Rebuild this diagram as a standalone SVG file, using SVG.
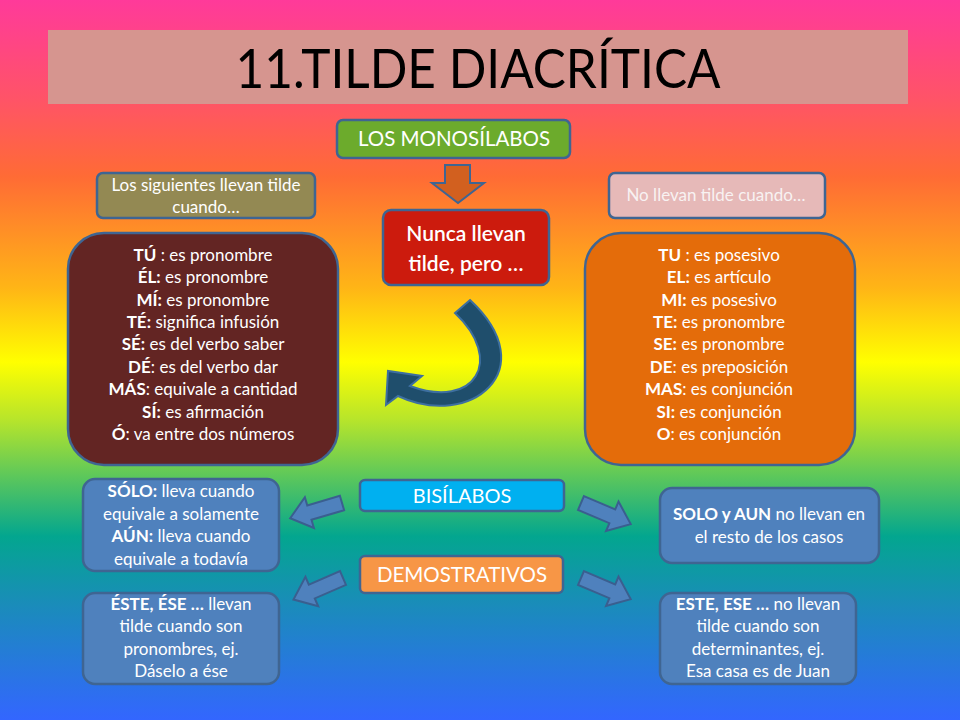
<svg xmlns="http://www.w3.org/2000/svg" width="960" height="720" viewBox="0 0 960 720">
<defs>
<linearGradient id="bg" x1="0" y1="0" x2="0" y2="720" gradientUnits="userSpaceOnUse">
<stop offset="0" stop-color="#ff3a9a"/>
<stop offset="0.14" stop-color="#ff5466"/>
<stop offset="0.245" stop-color="#ff6b35"/>
<stop offset="0.4" stop-color="#ffb516"/>
<stop offset="0.503" stop-color="#ffff00"/>
<stop offset="0.585" stop-color="#b5e42c"/>
<stop offset="0.66" stop-color="#5ec85a"/>
<stop offset="0.745" stop-color="#03a68f"/>
<stop offset="0.84" stop-color="#1a8cba"/>
<stop offset="1" stop-color="#3366ff"/>
</linearGradient>
<path id="blk" d="M0,-7.5 L34,-7.5 L34,-16 L54,0 L34,16 L34,7.5 L0,7.5 Z"/>
</defs>
<style>
.t{font-family:Lato,"Open Sans","Liberation Sans",sans-serif;fill:#ffffff;text-anchor:middle}
.b{font-weight:bold}
.bx{stroke:#3f6592;stroke-width:2.5}
.ar{fill:#4f81bd;stroke:#3a5f8f;stroke-width:2}
.body{font-size:17px}
</style>
<rect width="960" height="720" fill="url(#bg)"/>

<g id="title">
<rect x="48" y="30" width="860" height="74" fill="#d6958f"/>
<text x="478" y="88" style="font-family:Lato,'Open Sans','Liberation Sans',sans-serif;font-size:55px;fill:#000;text-anchor:middle" textLength="485" lengthAdjust="spacingAndGlyphs">11.TILDE DIACRÍTICA</text>
</g>

<g id="monosilabos">
<rect class="bx" x="337" y="120" width="233" height="38" rx="6" fill="#6cab2c"/>
<text class="t" x="454" y="146" style="font-size:20.5px">LOS MONOSÍLABOS</text>
</g>

<g id="nunca">
<rect class="bx" x="383" y="210" width="166" height="75" rx="8" fill="#cc1b0d"/>
<text class="t" x="466" y="241" style="font-size:21px;font-weight:600">Nunca llevan</text>
<text class="t" x="466" y="271" style="font-size:21px;font-weight:600">tilde, pero …</text>
</g>

<g id="label-left">
<rect class="bx" x="97" y="173" width="218" height="45" rx="6" fill="#938953"/>
<text class="t" x="206" y="191" style="font-size:17px">Los siguientes llevan tilde</text>
<text class="t" x="206" y="213" style="font-size:17px">cuando…</text>
</g>

<g id="label-right">
<rect class="bx" x="609" y="173" width="216" height="45" rx="6" fill="#e6b9b8"/>
<text class="t" x="716" y="201" style="font-size:17px;fill:#f8f2f2">No llevan tilde cuando…</text>
</g>

<g id="con-tilde">
<rect class="bx" x="68" y="233" width="270" height="232" rx="36" fill="#632523"/>
<g class="t body">
<text x="203" y="261"><tspan class="b">TÚ</tspan> : es pronombre</text>
<text x="203" y="283"><tspan class="b">ÉL:</tspan> es pronombre</text>
<text x="203" y="306"><tspan class="b">MÍ:</tspan> es pronombre</text>
<text x="203" y="328"><tspan class="b">TÉ:</tspan> significa infusión</text>
<text x="203" y="350"><tspan class="b">SÉ:</tspan> es del verbo saber</text>
<text x="203" y="373"><tspan class="b">DÉ</tspan>: es del verbo dar</text>
<text x="203" y="395"><tspan class="b">MÁS</tspan>: equivale a cantidad</text>
<text x="203" y="418"><tspan class="b">SÍ:</tspan> es afirmación</text>
<text x="203" y="440"><tspan class="b">Ó</tspan>: va entre dos números</text>
</g>
</g>

<g id="sin-tilde">
<rect class="bx" x="585" y="233" width="270" height="232" rx="36" fill="#e46c0a"/>
<g class="t body">
<text x="719" y="261"><tspan class="b">TU</tspan> : es posesivo</text>
<text x="719" y="283"><tspan class="b">EL:</tspan> es artículo</text>
<text x="719" y="306"><tspan class="b">MI:</tspan> es posesivo</text>
<text x="719" y="328"><tspan class="b">TE:</tspan> es pronombre</text>
<text x="719" y="350"><tspan class="b">SE:</tspan> es pronombre</text>
<text x="719" y="373"><tspan class="b">DE</tspan>: es preposición</text>
<text x="719" y="395"><tspan class="b">MAS</tspan>: es conjunción</text>
<text x="719" y="418"><tspan class="b">SI:</tspan> es conjunción</text>
<text x="719" y="440"><tspan class="b">O</tspan>: es conjunción</text>
</g>
</g>

<g id="bisilabos">
<rect class="bx" x="360" y="480" width="204" height="31" rx="5" fill="#00b0f0"/>
<text class="t" x="462" y="503" style="font-size:20px">BISÍLABOS</text>
</g>

<g id="demostrativos">
<rect class="bx" x="360" y="556" width="203" height="37" rx="5" fill="#f79646"/>
<text class="t" x="462" y="582" style="font-size:20.5px">DEMOSTRATIVOS</text>
</g>

<g id="solo-lleva">
<rect class="bx" x="83" y="479" width="196" height="92" rx="12" fill="#4f81bd"/>
<g class="t body">
<text x="181" y="497"><tspan class="b">SÓLO:</tspan> lleva cuando</text>
<text x="181" y="520">equivale a solamente</text>
<text x="181" y="542"><tspan class="b">AÚN:</tspan> lleva cuando</text>
<text x="181" y="565">equivale a todavía</text>
</g>
</g>

<g id="solo-no">
<rect class="bx" x="660" y="488" width="219" height="75" rx="12" fill="#4f81bd"/>
<g class="t body">
<text x="769" y="520"><tspan class="b">SOLO y AUN</tspan> no llevan en</text>
<text x="769" y="543">el resto de los casos</text>
</g>
</g>

<g id="este-lleva">
<rect class="bx" x="83" y="593" width="196" height="91" rx="12" fill="#4f81bd"/>
<g class="t body">
<text x="181" y="610"><tspan class="b">ÉSTE, ÉSE …</tspan> llevan</text>
<text x="181" y="632">tilde cuando son</text>
<text x="181" y="655">pronombres, ej.</text>
<text x="181" y="677">Dáselo a ése</text>
</g>
</g>

<g id="este-no">
<rect class="bx" x="660" y="593" width="196" height="91" rx="12" fill="#4f81bd"/>
<g class="t body">
<text x="758" y="610"><tspan class="b">ESTE, ESE …</tspan> no llevan</text>
<text x="758" y="632">tilde cuando son</text>
<text x="758" y="655">determinantes, ej.</text>
<text x="758" y="677">Esa casa es de Juan</text>
</g>
</g>

<g id="connectors">
<path d="M445,165 L470,165 L470,183 L484,183 L458,203 L432,183 L445,183 Z" fill="#d2601f" stroke="#3f6592" stroke-width="2"/>
<path d="M455,313 C505,360 475,410 410,386 L422,376 L388,371 L386,405 L398,396 C470,430 545,370 470,300 Z" fill="#1f4e6c" stroke="#3d6fa0" stroke-width="2"/>
<use href="#blk" class="ar" transform="translate(342,503) rotate(163.6)"/>
<use href="#blk" class="ar" transform="translate(581,503) rotate(23)"/>
<use href="#blk" class="ar" transform="translate(343,578) rotate(156.5)"/>
<use href="#blk" class="ar" transform="translate(581,578) rotate(23)"/>
</g>
</svg>
